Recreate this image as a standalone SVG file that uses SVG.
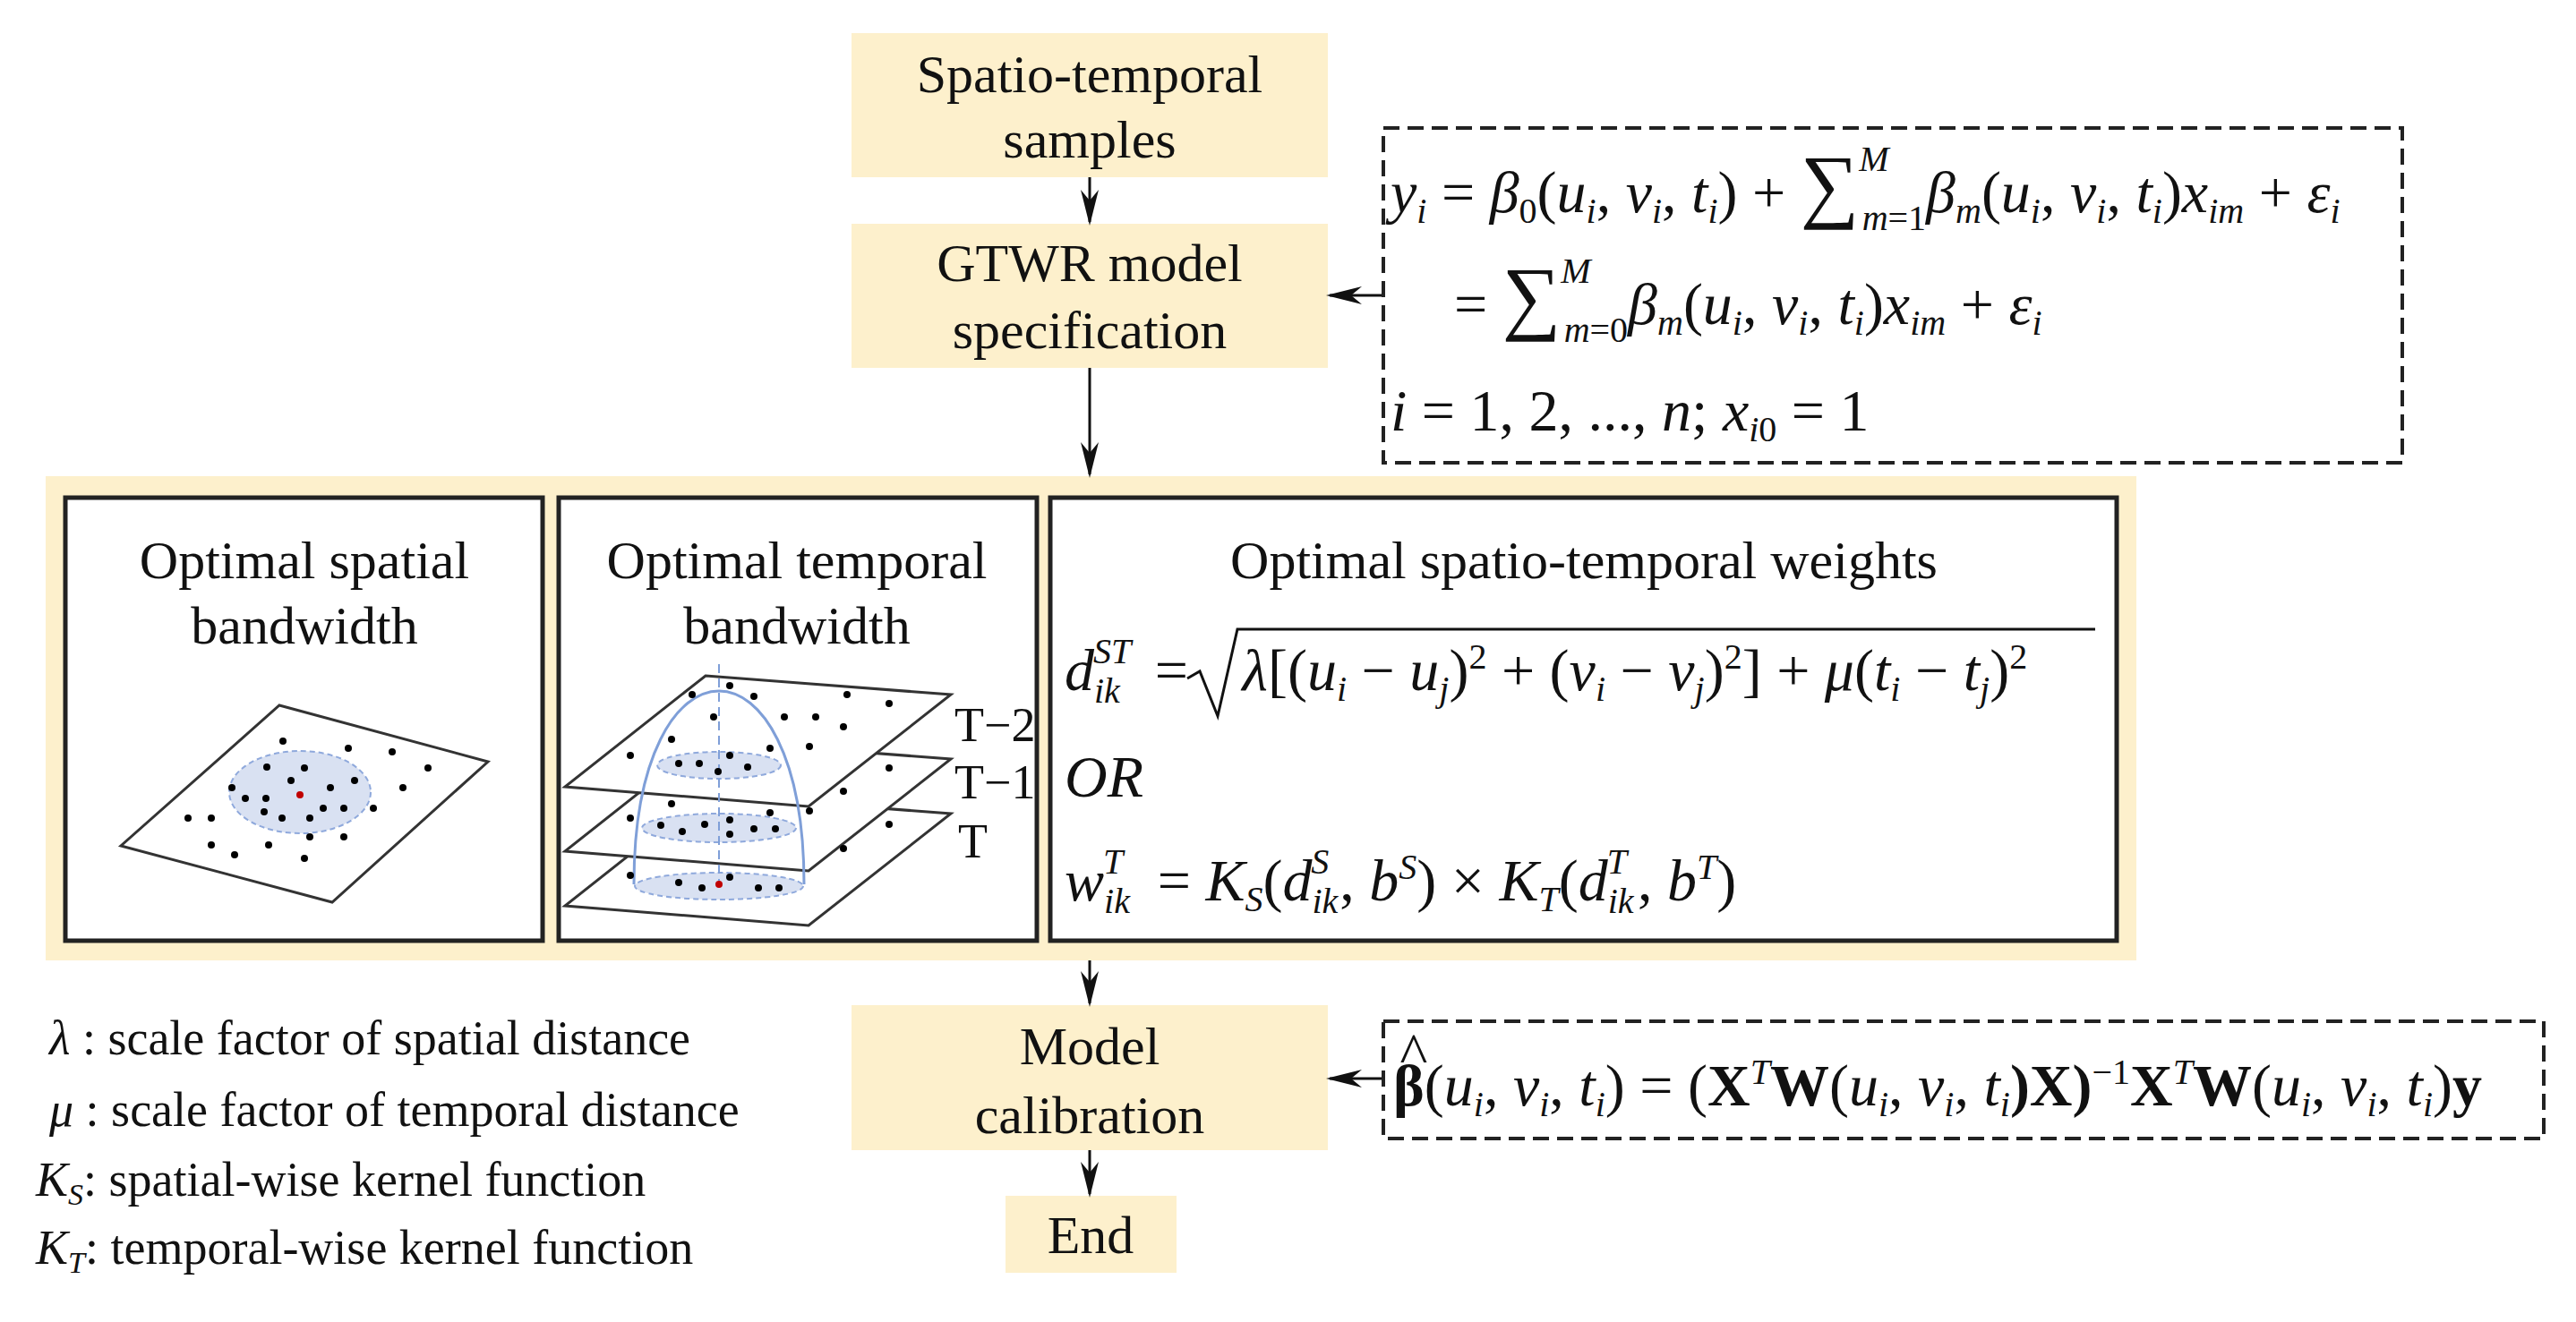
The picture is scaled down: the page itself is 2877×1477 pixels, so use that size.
<svg xmlns="http://www.w3.org/2000/svg" width="2877" height="1477" viewBox="0 0 2877 1477">
<style>
.bx{fill:#fdf0cc}
.t{font-family:"Liberation Serif","Times New Roman","DejaVu Serif",serif;font-size:60px;fill:#111;text-anchor:middle}
.lt{font-family:"Liberation Serif","Times New Roman","DejaVu Serif",serif;font-size:54px;fill:#111}
.f{font-family:"Liberation Serif","Times New Roman","DejaVu Serif",serif;font-size:66px;font-style:italic;fill:#111}
.s{font-size:40px}
.n{font-style:normal}
.b{font-weight:bold;font-style:normal}
.ib{fill:#fff;stroke:#222;stroke-width:5}
.dash{fill:none;stroke:#222;stroke-width:4;stroke-dasharray:18 9}
.ln{stroke:#111;stroke-width:3;fill:none}
.pl{fill:#fff;stroke:#333;stroke-width:3}
.el{fill:#d9e1f2;stroke:#8fa9dc;stroke-width:2;stroke-dasharray:6 4}
.dm{fill:none;stroke:#7f9fd8;stroke-width:3}
.d{fill:#000}
</style>
<defs>
<marker id="a" viewBox="0 0 10 10" refX="9" refY="5" markerWidth="40" markerHeight="20" markerUnits="userSpaceOnUse" orient="auto" preserveAspectRatio="none"><path d="M0,0 L10,5 L0,10 L3,5 z" fill="#111"/></marker>
</defs>

<g id="samples"><rect class="bx" x="951" y="37" width="532" height="161"/>
<text class="t" x="1217" y="103">Spatio-temporal</text><text class="t" x="1217" y="176">samples</text></g>

<g id="gtwr"><rect class="bx" x="951" y="250" width="532" height="161"/>
<text class="t" x="1217" y="314">GTWR model</text><text class="t" x="1217" y="389">specification</text></g>

<g id="eq1"><rect class="dash" x="1545" y="143" width="1138" height="374"/>
<text class="f" x="1553" y="237">y<tspan class="s" dy="12">i</tspan><tspan dy="-12" class="n"> = </tspan>β<tspan class="s n" dy="12">0</tspan><tspan dy="-12" class="n">(</tspan>u<tspan class="s" dy="12">i</tspan><tspan dy="-12" class="n">, </tspan>v<tspan class="s" dy="12">i</tspan><tspan dy="-12" class="n">, </tspan>t<tspan class="s" dy="12">i</tspan><tspan dy="-12" class="n">) + </tspan><tspan class="n" font-size="92">∑</tspan><tspan class="s" dy="-46">M</tspan><tspan class="s" dx="-30" dy="66">m</tspan><tspan class="s n">=1</tspan><tspan dy="-20">β</tspan><tspan class="s" dy="12">m</tspan><tspan dy="-12" class="n">(</tspan>u<tspan class="s" dy="12">i</tspan><tspan dy="-12" class="n">, </tspan>v<tspan class="s" dy="12">i</tspan><tspan dy="-12" class="n">, </tspan>t<tspan class="s" dy="12">i</tspan><tspan dy="-12" class="n">)</tspan>x<tspan class="s" dy="12">im</tspan><tspan dy="-12" class="n"> + </tspan>ε<tspan class="s" dy="12">i</tspan></text>
<text class="f" x="1624" y="362"><tspan class="n">= </tspan><tspan class="n" font-size="92">∑</tspan><tspan class="s" dy="-46">M</tspan><tspan class="s" dx="-30" dy="66">m</tspan><tspan class="s n">=0</tspan><tspan dy="-20">β</tspan><tspan class="s" dy="12">m</tspan><tspan dy="-12" class="n">(</tspan>u<tspan class="s" dy="12">i</tspan><tspan dy="-12" class="n">, </tspan>v<tspan class="s" dy="12">i</tspan><tspan dy="-12" class="n">, </tspan>t<tspan class="s" dy="12">i</tspan><tspan dy="-12" class="n">)</tspan>x<tspan class="s" dy="12">im</tspan><tspan dy="-12" class="n"> + </tspan>ε<tspan class="s" dy="12">i</tspan></text>
<text class="f" x="1553" y="481">i<tspan class="n"> = 1, 2, ..., </tspan>n<tspan class="n">;   </tspan>x<tspan class="s" dy="12">i</tspan><tspan class="s n">0</tspan><tspan dy="-12" class="n"> = 1</tspan></text>
</g>

<g id="panel"><rect class="bx" x="51" y="532" width="2335" height="541"/>
<rect class="ib" x="73" y="556" width="533" height="495"/>
<rect class="ib" x="624" y="556" width="534" height="495"/>
<rect class="ib" x="1173" y="556" width="1191" height="495"/>
</g>

<g id="spatial">
<text class="t" x="340" y="646" font-size="54">Optimal spatial</text>
<text class="t" x="340" y="719" font-size="54">bandwidth</text>
<polygon class="pl" points="312,788 545,851 371,1008 135,945"/>
<ellipse class="el" cx="335" cy="885" rx="79" ry="46"/>
<g class="d">
<circle cx="316" cy="828" r="4"/><circle cx="389" cy="836" r="4"/><circle cx="438" cy="840" r="4"/><circle cx="478" cy="858" r="4"/>
<circle cx="298" cy="857" r="4"/><circle cx="340" cy="858" r="4"/><circle cx="259" cy="880" r="4"/><circle cx="325" cy="872" r="4"/>
<circle cx="369" cy="880" r="4"/><circle cx="396" cy="872" r="4"/><circle cx="450" cy="880" r="4"/><circle cx="274" cy="892" r="4"/>
<circle cx="297" cy="892" r="4"/><circle cx="295" cy="907" r="4"/><circle cx="315" cy="914" r="4"/><circle cx="346" cy="914" r="4"/>
<circle cx="361" cy="903" r="4"/><circle cx="384" cy="903" r="4"/><circle cx="417" cy="903" r="4"/><circle cx="210" cy="914" r="4"/>
<circle cx="236" cy="914" r="4"/><circle cx="346" cy="935" r="4"/><circle cx="384" cy="935" r="4"/><circle cx="236" cy="944" r="4"/>
<circle cx="262" cy="955" r="4"/><circle cx="300" cy="944" r="4"/><circle cx="340" cy="959" r="4"/>
</g>
<circle cx="335" cy="888" r="4" fill="#c00000"/>
</g>

<g id="temporal">
<text class="t" x="890" y="646" font-size="54">Optimal temporal</text>
<text class="t" x="890" y="719" font-size="54">bandwidth</text>
<polygon class="pl" points="788,888 1062,909 903,1034 631,1012"/>
<polygon class="pl" points="788,827 1062,848 903,973 631,951"/>
<polygon class="pl" points="788,755 1062,776 903,901 631,879"/>
<ellipse class="el" cx="803" cy="990" rx="94" ry="15"/>
<ellipse class="el" cx="803" cy="925" rx="86" ry="16"/>
<ellipse class="el" cx="803" cy="855" rx="69" ry="15"/>
<path class="dm" d="M708,988 C708,700 898,700 898,988"/>
<line x1="803" y1="742" x2="803" y2="990" stroke="#7f9fd8" stroke-width="2" stroke-dasharray="10 6"/>
<g class="d">
<circle cx="815" cy="766" r="4"/><circle cx="773" cy="776" r="4"/><circle cx="842" cy="778" r="4"/><circle cx="946" cy="776" r="4"/><circle cx="993" cy="786" r="4"/>
<circle cx="797" cy="801" r="4"/><circle cx="876" cy="801" r="4"/><circle cx="911" cy="801" r="4"/><circle cx="942" cy="812" r="4"/>
<circle cx="750" cy="826" r="4"/><circle cx="860" cy="836" r="4"/><circle cx="904" cy="834" r="4"/><circle cx="704" cy="844" r="4"/>
<circle cx="758" cy="853" r="4"/><circle cx="781" cy="853" r="4"/><circle cx="815" cy="844" r="4"/><circle cx="802" cy="862" r="4"/><circle cx="835" cy="857" r="4"/>
<circle cx="993" cy="858" r="4"/><circle cx="942" cy="884" r="4"/><circle cx="750" cy="898" r="4"/><circle cx="860" cy="908" r="4"/><circle cx="904" cy="906" r="4"/>
<circle cx="704" cy="914" r="4"/><circle cx="738" cy="922" r="4"/><circle cx="762" cy="929" r="4"/><circle cx="787" cy="921" r="4"/><circle cx="815" cy="916" r="4"/>
<circle cx="815" cy="932" r="4"/><circle cx="842" cy="926" r="4"/><circle cx="866" cy="926" r="4"/><circle cx="993" cy="921" r="4"/><circle cx="942" cy="948" r="4"/>
<circle cx="704" cy="978" r="4"/><circle cx="758" cy="986" r="4"/><circle cx="784" cy="992" r="4"/><circle cx="815" cy="980" r="4"/><circle cx="847" cy="992" r="4"/><circle cx="870" cy="992" r="4"/>
</g>
<circle cx="803" cy="988" r="4" fill="#c00000"/>
<text class="lt" x="1066" y="828" font-size="46">T−2</text>
<text class="lt" x="1066" y="892" font-size="46">T−1</text>
<text class="lt" x="1070" y="958" font-size="46">T</text>
</g>

<g id="weights">
<text class="t" x="1769" y="646" font-size="54">Optimal spatio-temporal weights</text>
<text class="f" x="1189" y="771">d<tspan class="s" dy="14">ik</tspan><tspan class="s" dx="-30" dy="-44">ST</tspan><tspan dy="30" class="n" dx="10"> = </tspan><tspan dx="44">λ</tspan><tspan class="n">[(</tspan>u<tspan class="s" dy="12">i</tspan><tspan dy="-12" class="n"> − </tspan>u<tspan class="s" dy="12">j</tspan><tspan dy="-12" class="n">)</tspan><tspan class="s n" dy="-24">2</tspan><tspan dy="24" class="n"> + (</tspan>v<tspan class="s" dy="12">i</tspan><tspan dy="-12" class="n"> − </tspan>v<tspan class="s" dy="12">j</tspan><tspan dy="-12" class="n">)</tspan><tspan class="s n" dy="-24">2</tspan><tspan dy="24" class="n">] + </tspan>μ<tspan class="n">(</tspan>t<tspan class="s" dy="12">i</tspan><tspan dy="-12" class="n"> − </tspan>t<tspan class="s" dy="12">j</tspan><tspan dy="-12" class="n">)</tspan><tspan class="s n" dy="-24">2</tspan></text>
<path d="M1326,758 L1340,750 L1360,800 L1382,703 L2340,703" fill="none" stroke="#111" stroke-width="3"/>
<text class="f" x="1189" y="890">OR</text>
<text class="f" x="1189" y="1006">w<tspan class="s" dy="14">ik</tspan><tspan class="s" dx="-30" dy="-44">T</tspan><tspan dy="30" class="n" dx="22"> = </tspan>K<tspan class="s" dy="12">S</tspan><tspan dy="-12" class="n">(</tspan>d<tspan class="s" dy="14">ik</tspan><tspan class="s" dx="-30" dy="-44">S</tspan><tspan dy="30" class="n" dx="12">, </tspan>b<tspan class="s" dy="-24">S</tspan><tspan dy="24" class="n">) × </tspan>K<tspan class="s" dy="12">T</tspan><tspan dy="-12" class="n">(</tspan>d<tspan class="s" dy="14">ik</tspan><tspan class="s" dx="-30" dy="-44">T</tspan><tspan dy="30" class="n" dx="12">, </tspan>b<tspan class="s" dy="-24">T</tspan><tspan dy="24" class="n">)</tspan></text>
</g>

<g id="calib"><rect class="bx" x="951" y="1123" width="532" height="162"/>
<text class="t" x="1217" y="1189">Model</text><text class="t" x="1217" y="1266">calibration</text></g>

<g id="eq2"><rect class="dash" x="1545" y="1141" width="1296" height="131"/>
<text class="f" x="1562" y="1200" font-size="40" font-style="normal">^</text>
<text class="f" x="1556" y="1235"><tspan class="b">β</tspan><tspan class="n">(</tspan>u<tspan class="s" dy="12">i</tspan><tspan dy="-12" class="n">, </tspan>v<tspan class="s" dy="12">i</tspan><tspan dy="-12" class="n">, </tspan>t<tspan class="s" dy="12">i</tspan><tspan dy="-12" class="n">) = (</tspan><tspan class="b">X</tspan><tspan class="s" dy="-24">T</tspan><tspan class="b" dy="24">W</tspan><tspan class="n">(</tspan>u<tspan class="s" dy="12">i</tspan><tspan dy="-12" class="n">, </tspan>v<tspan class="s" dy="12">i</tspan><tspan dy="-12" class="n">, </tspan>t<tspan class="s" dy="12">i</tspan><tspan dy="-12" class="b">)X)</tspan><tspan class="s n" dy="-24">−1</tspan><tspan class="b" dy="24">X</tspan><tspan class="s" dy="-24">T</tspan><tspan class="b" dy="24">W</tspan><tspan class="n">(</tspan>u<tspan class="s" dy="12">i</tspan><tspan dy="-12" class="n">, </tspan>v<tspan class="s" dy="12">i</tspan><tspan dy="-12" class="n">, </tspan>t<tspan class="s" dy="12">i</tspan><tspan dy="-12" class="n">)</tspan><tspan class="b">y</tspan></text>
</g>

<g id="end"><rect class="bx" x="1123" y="1336" width="191" height="86"/>
<text class="t" x="1218" y="1400">End</text></g>

<g id="legend">
<text class="lt" x="55" y="1178"><tspan font-style="italic">λ</tspan> : scale factor of spatial distance</text>
<text class="lt" x="55" y="1258"><tspan font-style="italic">μ</tspan> : scale factor of temporal distance</text>
<text class="lt" x="40" y="1336"><tspan font-style="italic">K<tspan font-size="34" dy="10">S</tspan></tspan><tspan dy="-10">: spatial-wise kernel function</tspan></text>
<text class="lt" x="40" y="1412"><tspan font-style="italic">K<tspan font-size="34" dy="10">T</tspan></tspan><tspan dy="-10">: temporal-wise kernel function</tspan></text>
</g>

<g id="connectors">
<line class="ln" x1="1217" y1="198" x2="1217" y2="248" marker-end="url(#a)"/>
<line class="ln" x1="1217" y1="411" x2="1217" y2="530" marker-end="url(#a)"/>
<line class="ln" x1="1217" y1="1073" x2="1217" y2="1121" marker-end="url(#a)"/>
<line class="ln" x1="1217" y1="1285" x2="1217" y2="1334" marker-end="url(#a)"/>
<line class="ln" x1="1543" y1="330" x2="1485" y2="330" marker-end="url(#a)"/>
<line class="ln" x1="1543" y1="1205" x2="1485" y2="1205" marker-end="url(#a)"/>
</g>
</svg>
